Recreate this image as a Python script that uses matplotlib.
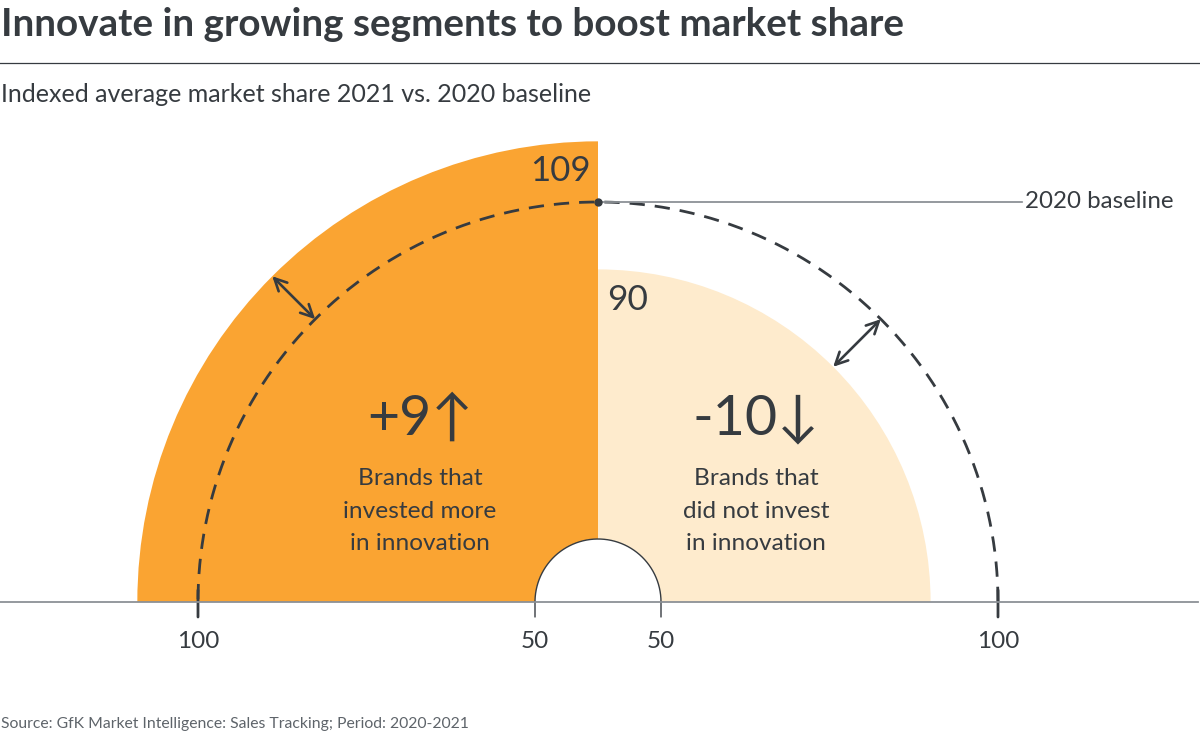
import numpy as np
import matplotlib
matplotlib.use('Agg')
import matplotlib.pyplot as plt
from matplotlib.lines import Line2D

plt.rcParams['font.family'] = ['Lato', 'DejaVu Sans']

# ---------------- data ----------------
groups = ['Brands that\ninvested more\nin innovation',
          'Brands that\ndid not invest\nin innovation']
index_2021 = [109, 90]
baseline_2020 = 100
axis_min = 50
changes = ['+9↑', '-10↓']
value_labels = ['109', '90']
tick_values = [100, 50, 50, 100]
baseline_label = '2020 baseline'

title = 'Innovate in growing segments to boost market share'
subtitle = 'Indexed average market share 2021 vs. 2020 baseline'
source = 'Source: GfK Market Intelligence: Sales Tracking; Period: 2020-2021'

# ---------------- style ----------------
ORANGE = '#FAA432'
PEACH = '#FEEBCD'
DARK = '#363B40'
GRAY = '#8C9196'
SRC = '#5E646A'

W, H = 1200, 733
fig = plt.figure(figsize=(12, 7.33), dpi=100)


def fpx(x, ytop):
    return x / W, 1 - ytop / H


# polar axes geometry
cx, cy = 598, 131          # centre in figure pixels (from bottom)
k = 6.74                   # pixels per index point
r_hole = 63                # pixel radius of index 50
rorigin = axis_min - r_hole / k
rmax = 112
R = (rmax - rorigin) * k
S = 2 * R
ax = fig.add_axes([(cx - R) / W, (cy - 0.25 * S) / H, S / W, S / H],
                  projection='polar')
ax.set_thetamin(0)
ax.set_thetamax(180)
ax.set_rorigin(rorigin)
ax.set_ylim(axis_min, rmax)
ax.grid(False)
ax.set_xticks([])
ax.set_yticks([])
for sp in ax.spines.values():
    sp.set_edgecolor('none')
    sp.set_linewidth(0)
ax.patch.set_visible(False)

# bars: left quarter = invested, right quarter = not invested
theta_c = [3 * np.pi / 4, np.pi / 4]
ax.bar(theta_c, [v - axis_min for v in index_2021], width=np.pi / 2,
       bottom=axis_min, color=[ORANGE, PEACH], edgecolor='none', zorder=1)

# 2020 baseline dashed arc
th = np.linspace(0, np.pi, 500)
ax.plot(th, np.full_like(th, baseline_2020), color=DARK, lw=2.0,
        ls=(0, (5.5, 3.6)), zorder=3, clip_on=False)

# hole outline
ax.plot(th, np.full_like(th, axis_min), color=DARK, lw=1.0, zorder=3,
        clip_on=False)

# leader to "2020 baseline"
ax.annotate(baseline_label, xy=(np.pi / 2, baseline_2020), xycoords='data',
            xytext=(1025, H - 202), textcoords='figure pixels',
            ha='left', va='center', fontsize=17.4, color=DARK,
            arrowprops=dict(arrowstyle='-', color=GRAY, lw=1.3,
                            shrinkA=0, shrinkB=0),
            annotation_clip=False, zorder=4)
ax.plot([np.pi / 2], [baseline_2020], 'o', ms=5, color=DARK, zorder=5,
        clip_on=False)

# double arrows showing change
for ang, v in zip([3 * np.pi / 4, np.pi / 4], index_2021):
    ax.annotate('', xy=(ang, v), xytext=(ang, baseline_2020),
                arrowprops=dict(arrowstyle='<->', color=DARK, lw=1.9,
                                shrinkA=0, shrinkB=0, mutation_scale=22),
                annotation_clip=False, zorder=6)

# value labels
ax.annotate(value_labels[0], xy=(np.pi / 2, index_2021[0]),
            xytext=(-38, -30), textcoords='offset pixels',
            ha='center', va='center', fontsize=25, color=DARK,
            annotation_clip=False)
ax.annotate(value_labels[1], xy=(np.pi / 2, index_2021[1]),
            xytext=(30, -31), textcoords='offset pixels',
            ha='center', va='center', fontsize=25.5, color=DARK,
            annotation_clip=False)

# axis ticks and labels
tick_thetas = [np.pi, np.pi, 0, 0]
for t, v in zip(tick_thetas, tick_values):
    up = 12 if v == baseline_2020 else 0
    ax.annotate('', xy=(t, v), xytext=(0, -15), textcoords='offset pixels',
                arrowprops=dict(arrowstyle='-', color=DARK,
                                lw=2.0 if v == baseline_2020 else 1.0,
                                shrinkA=0, shrinkB=0),
                annotation_clip=False)
    if up:
        ax.annotate('', xy=(t, v), xytext=(0, up), textcoords='offset pixels',
                    arrowprops=dict(arrowstyle='-', color=DARK, lw=2.0,
                                    shrinkA=0, shrinkB=0),
                    annotation_clip=False)
    ax.annotate(str(v), xy=(t, v), xytext=(0, -40), textcoords='offset pixels',
                ha='center', va='center', fontsize=17.5, color=DARK,
                annotation_clip=False)

# horizontal base line across the figure
fig.add_artist(Line2D([0, 1198 / W], [cy / H, cy / H], color=GRAY, lw=1.3,
                      zorder=2))

# group texts
for xc, ch, g in zip([420, 756], changes, groups):
    fig.text(*fpx(xc, 419), ch, ha='center', va='center', fontsize=40,
             color=DARK)
    fig.text(*fpx(xc, 511), g, ha='center', va='center', fontsize=17.6,
             color=DARK, linespacing=1.68, multialignment='center')

# titles
fig.text(*fpx(1, 36), title, ha='left', va='baseline', fontsize=27.8,
         fontweight='bold', color=DARK)
fig.add_artist(Line2D([0, 1], [1 - 63 / H] * 2, color=DARK, lw=0.9))
fig.text(*fpx(1, 102), subtitle, ha='left', va='baseline', fontsize=18,
         color=DARK)
fig.text(*fpx(1, 728), source, ha='left', va='baseline', fontsize=11.3,
         color=SRC)

fig.savefig('out.png', dpi=100, facecolor='white')
